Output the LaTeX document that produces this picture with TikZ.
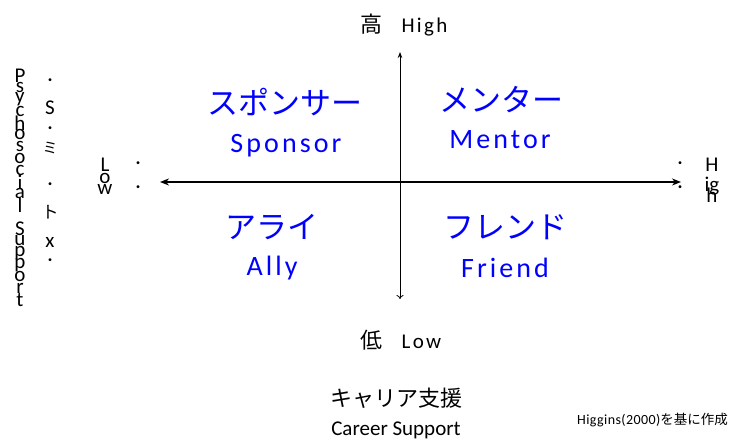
\documentclass[tikz,border=0pt]{standalone}
\usepackage{fontspec}
\setmainfont{Carlito}
\newfontfamily\jp{Noto Sans CJK JP}
\newfontfamily\spaced[LetterSpace=11]{Carlito}
\newfontfamily\srcfont[LetterSpace=3]{Carlito}
\usetikzlibrary{arrows.meta}
\definecolor{qblue}{RGB}{0,0,255}
\tikzset{
  quadjp/.style={text=qblue,font=\jp\fontsize{31}{31}\selectfont,inner sep=0pt},
  quaden/.style={text=qblue,font=\spaced\fontsize{28}{28}\selectfont,inner sep=0pt},
  axlabel/.style={font=\spaced\fontsize{21}{21}\selectfont,inner sep=0pt},
  vchar/.style={font=\fontsize{21}{21}\selectfont,inner sep=0pt},
  vdot/.style={font=\jp\fontsize{14}{14}\selectfont,inner sep=0pt},
}
\begin{document}
\begin{tikzpicture}[x=1pt,y=-1pt]
\useasboundingbox (0,0) rectangle (733,443);
% axes endpoints
\coordinate (L) at (160,182);
\coordinate (R) at (681,182);
\coordinate (T) at (400,52);
\coordinate (B) at (400,299);
\draw[line width=2.2pt,{Stealth[length=9pt,width=7pt]}-{Stealth[length=9pt,width=7pt]}] (L) -- (R);
\draw[line width=0.8pt,{Stealth[length=6pt,width=4.5pt]}-{To[length=4pt,width=7pt]}] (T) -- (B);
% axis labels
\node[axlabel] (high) at (404,25) {{\jp\fontsize{22}{22}\selectfont 高}\hspace{0.9em}High};
\node[axlabel] (low) at (401,340) {{\jp\fontsize{22}{22}\selectfont 低}\hspace{0.9em}Low};
\node[axlabel,font=\jp\fontsize{22}{22}\selectfont] (cs1) at (396,398) {キャリア支援};
\node[axlabel,font=\fontsize{21}{21}\selectfont] (cs2) at (396,430) {Career Support};
\node[inner sep=0pt,anchor=west,font=\srcfont\fontsize{14}{14}\selectfont] (src) at (577,420) {Higgins(2000){\jp\fontsize{13.5}{14}\selectfont を基に作成}};
% quadrants
\node[quadjp] (spj) at (285,102) {スポンサー};
\node[quaden] (spe) at (286,146) {Sponsor};
\node[quadjp] (mej) at (501,100) {メンター};
\node[quaden] (mee) at (500,140) {Mentor};
\node[quadjp] (alj) at (272,227) {アライ};
\node[quaden] (ale) at (272,268) {Ally};
\node[quadjp] (frj) at (505,227) {フレンド};
\node[quaden] (fre) at (505,268) {Friend};
% left vertical garbled label
\foreach \c [count=\i] in {P,s,y,c,h,o,s,o,c,i,a,l,{},S,u,p,p,o,r,t}
  \node[vchar] (v\i) at (20,{64+11.8*\i}) {\c};
\node[vdot] (d1) at (50,82) {・};
\node[vchar] (d2) at (50,108) {S};
\node[vdot] (d3) at (50,130) {・};
\node[vchar,font=\jp\fontsize{15}{15}\selectfont] (d4) at (50,148) {ミ};
\node[vdot] (d5) at (50,186) {・};
\node[vchar,font=\jp\fontsize{17}{17}\selectfont] (d6) at (50,212) {ト};
\node[vchar] (d7) at (50,242) {x};
\node[vdot] (d8) at (50,262) {・};
% Low left
\node[vchar] (lo1) at (105,165) {L};
\node[vchar] (lo2) at (105,178) {o};
\node[vchar] (lo3) at (105,189) {w};
\node[vdot] (ld1) at (138,165) {・};
\node[vdot] (ld2) at (138,189) {・};
% High right
\node[vdot] (rd1) at (680,165) {・};
\node[vdot] (rd2) at (680,189) {・};
\node[vchar] (hi1) at (712,165) {H};
\node[vchar] (hi2) at (712,186) {ig};
\node[vchar] (hi3) at (712,195) {h};
\end{tikzpicture}
\end{document}
